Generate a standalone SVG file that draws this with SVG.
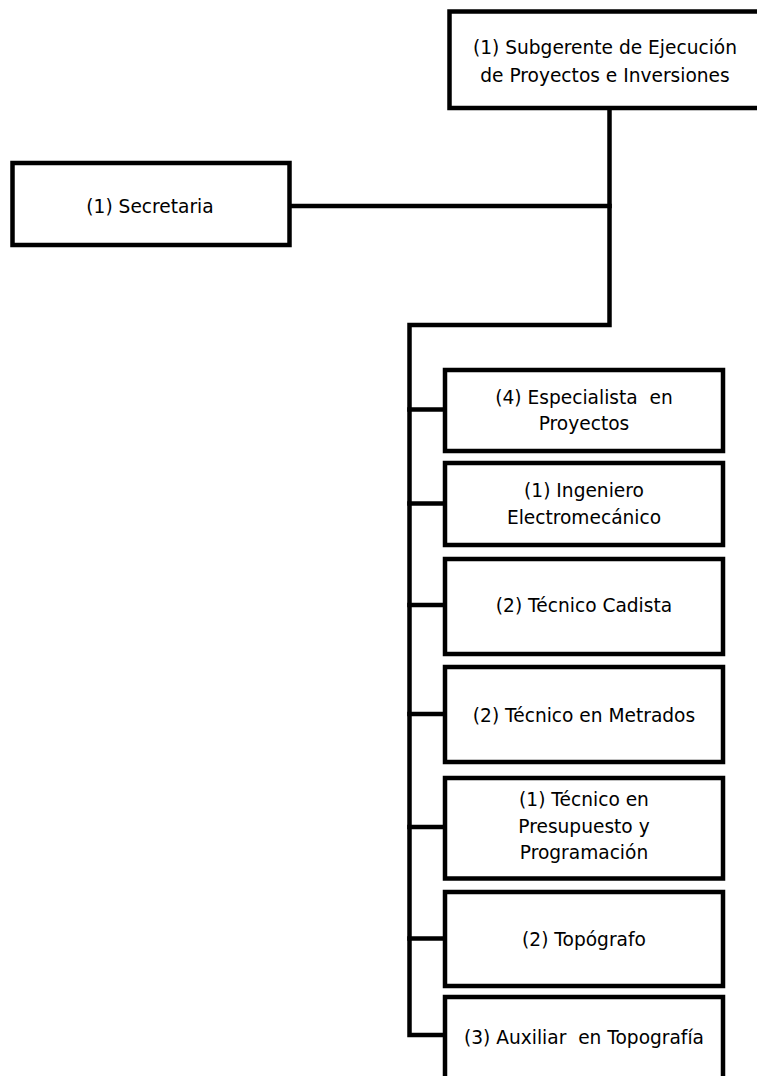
<svg xmlns="http://www.w3.org/2000/svg" width="757" height="1076" viewBox="0 0 757 1076">
  <style>
    .box { fill: #ffffff; stroke: #000000; stroke-width: 4.5; }
    .link { fill: none; stroke: #000000; stroke-width: 4.5; stroke-linejoin: miter; stroke-linecap: square; }
    text { font-family: "DejaVu Sans", "Liberation Sans", sans-serif; font-size: 18.6px; fill: #000000; text-anchor: middle; }
  </style>
  <rect width="757" height="1076" fill="#ffffff"/>

  <!-- connectors -->
  <g id="connectors">
    <path class="link" d="M609.5 108 V325 H409.5 V1035 H445"/>
    <path class="link" d="M289.5 206 H609.5"/>
    <path class="link" d="M409.5 409.5 H445"/>
    <path class="link" d="M409.5 503.5 H445"/>
    <path class="link" d="M409.5 605 H445"/>
    <path class="link" d="M409.5 714 H445"/>
    <path class="link" d="M409.5 827 H445"/>
    <path class="link" d="M409.5 938.5 H445"/>
  </g>

  <g id="subgerente">
    <rect class="box" x="449.5" y="11.5" width="320" height="96.5"/>
    <text x="605" y="54">(1) Subgerente de Ejecución</text>
    <text x="605" y="82">de Proyectos e Inversiones</text>
  </g>

  <g id="secretaria">
    <rect class="box" x="12.5" y="163" width="277" height="82"/>
    <text x="150" y="213">(1) Secretaria</text>
  </g>

  <g id="especialista">
    <rect class="box" x="445" y="370" width="278" height="81"/>
    <text x="584" y="404" xml:space="preserve">(4) Especialista  en</text>
    <text x="584" y="430">Proyectos</text>
  </g>

  <g id="ingeniero">
    <rect class="box" x="445" y="463" width="278" height="82"/>
    <text x="584" y="497">(1) Ingeniero</text>
    <text x="584" y="524">Electromecánico</text>
  </g>

  <g id="cadista">
    <rect class="box" x="445" y="559" width="278" height="95"/>
    <text x="584" y="612">(2) Técnico Cadista</text>
  </g>

  <g id="metrados">
    <rect class="box" x="445" y="667" width="278" height="95"/>
    <text x="584" y="722">(2) Técnico en Metrados</text>
  </g>

  <g id="presupuesto">
    <rect class="box" x="445" y="778" width="278" height="100.5"/>
    <text x="584" y="806">(1) Técnico en</text>
    <text x="584" y="833">Presupuesto y</text>
    <text x="584" y="859">Programación</text>
  </g>

  <g id="topografo">
    <rect class="box" x="445" y="892" width="278" height="94"/>
    <text x="584" y="946">(2) Topógrafo</text>
  </g>

  <g id="auxiliar">
    <rect class="box" x="445" y="997" width="278" height="100"/>
    <text x="584" y="1044" xml:space="preserve">(3) Auxiliar  en Topografía</text>
  </g>
</svg>
